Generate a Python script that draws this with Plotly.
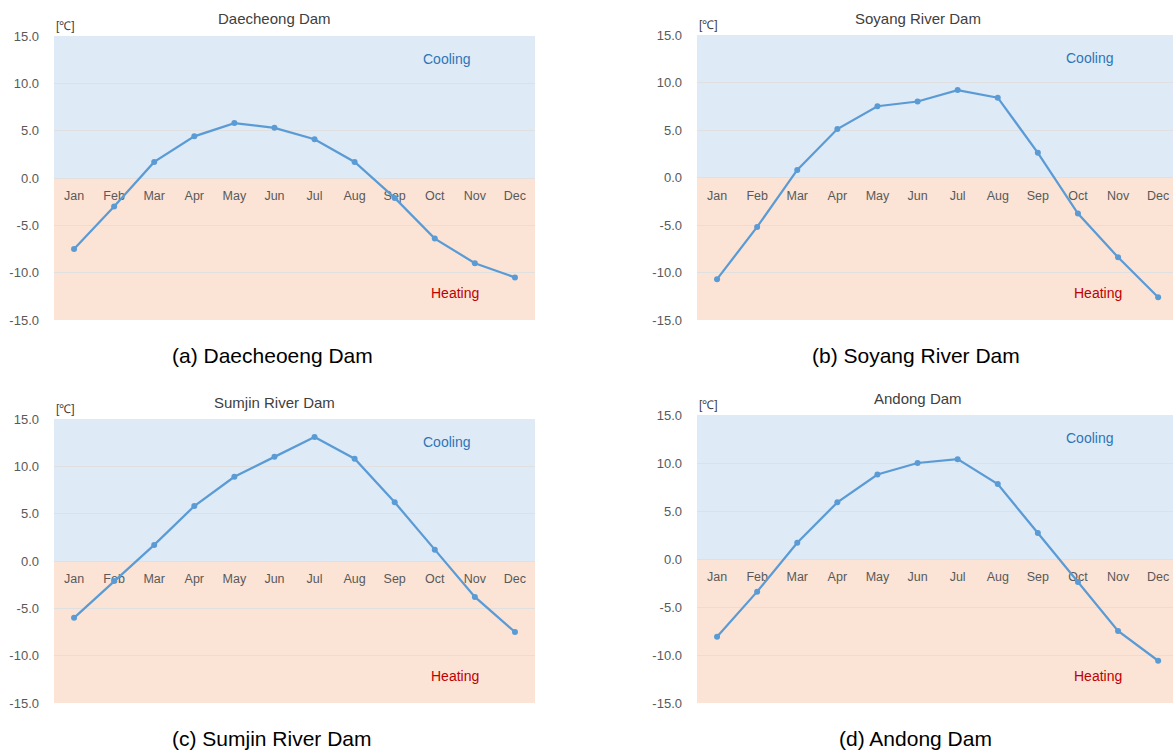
import plotly.graph_objects as go

W, H = 1173, 754

months = ["Jan", "Feb", "Mar", "Apr", "May", "Jun",
          "Jul", "Aug", "Sep", "Oct", "Nov", "Dec"]

daecheong = [-7.5, -3.0, 1.7, 4.4, 5.8, 5.3, 4.1, 1.7, -2.1, -6.4, -9.0, -10.5]
soyang = [-10.7, -5.2, 0.8, 5.1, 7.5, 8.0, 9.2, 8.4, 2.6, -3.8, -8.4, -12.6]
sumjin = [-6.0, -2.1, 1.7, 5.8, 8.9, 11.0, 13.1, 10.8, 6.2, 1.2, -3.8, -7.5]
andong = [-8.1, -3.4, 1.7, 5.9, 8.8, 10.0, 10.4, 7.8, 2.7, -2.4, -7.5, -10.6]

titles = ["Daecheong Dam", "Soyang River Dam", "Sumjin River Dam", "Andong Dam"]
captions = ["(a) Daecheoeng Dam", "(b) Soyang River Dam",
            "(c) Sumjin River Dam", "(d) Andong Dam"]
series = [daecheong, soyang, sumjin, andong]

y_ticks = [-15, -10, -5, 0, 5, 10, 15]
y_tick_text = ["%.1f" % v for v in y_ticks]  # plain hyphen minus

# panel boxes in pixels: (left, right, top, bottom)
boxes = [(54, 535, 36, 320), (697, 1173, 35, 320),
         (54, 535, 419, 703), (697, 1173, 415, 703)]

LINE = "#5B9BD5"
COOL_BG = "#DEEAF6"
HEAT_BG = "#FBE4D6"
GRID = "#E0E0E0"
TXT = "#595959"
FONT = "Liberation Sans, Arial, sans-serif"

fig = go.Figure()
layout = dict(width=W, height=H, autosize=False,
              margin=dict(l=0, r=0, t=0, b=0, pad=0, autoexpand=False),
              paper_bgcolor="white", plot_bgcolor="white",
              showlegend=False, font=dict(family=FONT, color=TXT))
shapes, annotations = [], []

x_idx = list(range(len(months)))

for i, (vals, (l, r, t, b)) in enumerate(zip(series, boxes)):
    n = "" if i == 0 else str(i + 1)
    xa, ya = "x" + n, "y" + n
    # right-hand panels are cut at the page edge (about 40 px per month)
    right_end = -0.5 + (r - l) / 40.1 if i in (1, 3) else 11.5
    layout["xaxis" + n] = dict(domain=[l / W, r / W], range=[-0.5, right_end],
                               showgrid=False, zeroline=False, showline=False,
                               showticklabels=False, anchor=ya, fixedrange=True,
                               automargin=False)
    layout["yaxis" + n] = dict(domain=[1 - b / H, 1 - t / H], range=[-15, 15],
                               tickvals=y_ticks, ticktext=y_tick_text,
                               showgrid=True, gridcolor=GRID, gridwidth=1,
                               zeroline=False, showline=False, ticks="",
                               ticklabelstandoff=14, automargin=False,
                               tickfont=dict(size=13, color=TXT, family=FONT),
                               anchor=xa, fixedrange=True)

    # cooling / heating background bands
    shapes.append(dict(type="rect", xref=xa + " domain", yref=ya,
                       x0=0, x1=1, y0=0, y1=15, fillcolor=COOL_BG,
                       line_width=0, layer="below"))
    shapes.append(dict(type="rect", xref=xa + " domain", yref=ya,
                       x0=0, x1=1, y0=-15, y1=0, fillcolor=HEAT_BG,
                       line_width=0, layer="below"))

    # month labels just below the zero line
    fig.add_trace(go.Scatter(x=x_idx, y=[-2.0] * len(months), text=months,
                             mode="text", xaxis=xa, yaxis=ya,
                             textfont=dict(size=12.5, color=TXT, family=FONT),
                             hoverinfo="skip"))
    fig.add_trace(go.Scatter(x=x_idx, y=vals, mode="lines+markers",
                             xaxis=xa, yaxis=ya,
                             line=dict(color=LINE, width=2.25),
                             marker=dict(color=LINE, size=6)))

    annotations += [
        dict(text=titles[i], xref=xa, yref=ya + " domain", x=5.0, y=1,
             yanchor="middle", yshift=17, showarrow=False,
             font=dict(size=15, color="#404040", family=FONT)),
        dict(text="[℃]", xref=xa + " domain", yref=ya + " domain", x=0, y=1,
             xanchor="left", yanchor="bottom", xshift=0, yshift=1,
             showarrow=False, font=dict(size=12, color="#404040", family=FONT)),
        dict(text="Cooling", xref=xa, yref=ya, x=9.3, y=12.6,
             showarrow=False, font=dict(size=14, color="#2E75B6", family=FONT)),
        dict(text="Heating", xref=xa, yref=ya, x=9.5, y=-12.2,
             showarrow=False, font=dict(size=14, color="#C00000", family=FONT)),
        dict(text=captions[i], xref=xa, yref=ya + " domain", x=4.95, y=0,
             yanchor="middle", yshift=-35, showarrow=False,
             font=dict(size=21, color="black", family=FONT)),
    ]

layout["shapes"] = shapes
layout["annotations"] = annotations
fig.update_layout(**layout)
fig.write_html("out.html")
